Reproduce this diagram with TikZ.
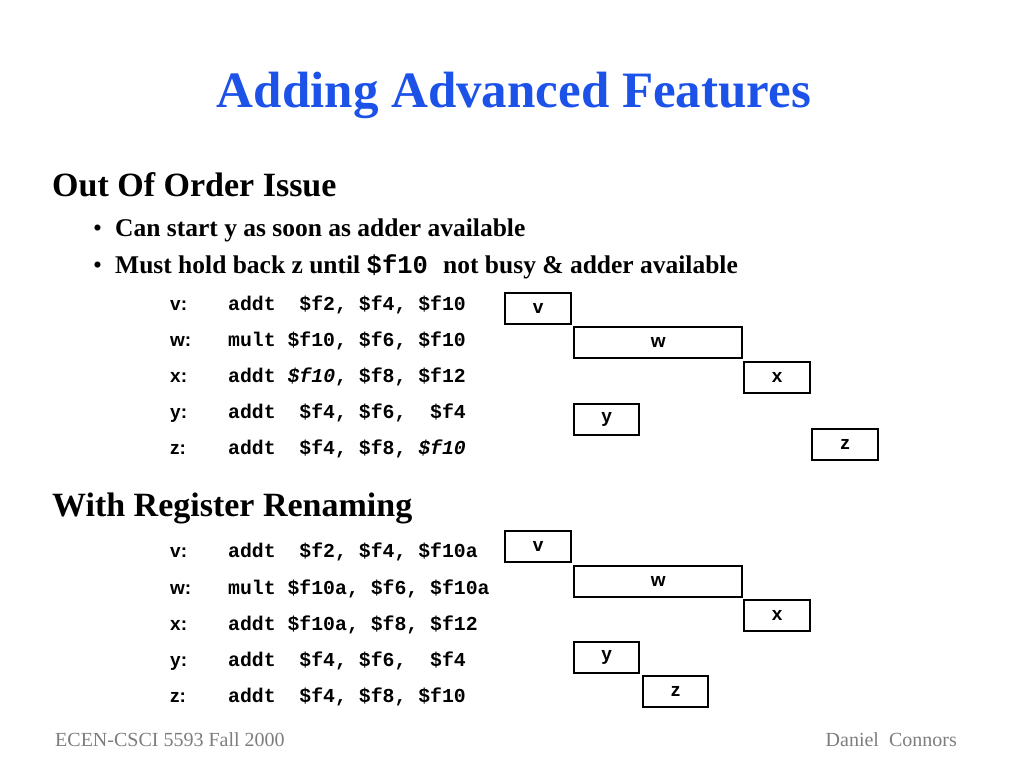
\documentclass[tikz,border=0pt]{standalone}
\usepackage{fontspec}
\setmainfont{Liberation Serif}
\newfontfamily\codefont{Liberation Mono}
\newfontfamily\boxfont{Liberation Sans}
\usepackage{tikz}
\usetikzlibrary{positioning}
\definecolor{titleblue}{RGB}{28,82,232}
\definecolor{footgray}{RGB}{125,125,125}
\newcommand{\cd}[1]{{\codefont\bfseries #1}}
\newcommand{\ci}[1]{{\codefont\bfseries\itshape #1}}
\tikzset{
  txt/.style={inner sep=0pt, anchor=base west},
  head/.style={txt, font=\fontsize{34}{40}\selectfont\bfseries},
  codeline/.style={txt, font=\fontsize{19.8}{24}\selectfont\codefont\bfseries},
  reglab/.style={txt, font=\fontsize{19}{24}\selectfont\boxfont\bfseries},
  slot/.style={draw, line width=2.4pt, anchor=north west, inner sep=0pt,
    minimum height=31pt, font=\fontsize{19}{20}\selectfont\boxfont\bfseries},
}
\begin{document}
\begin{tikzpicture}[x=1pt, y=-1pt]
  \useasboundingbox (0,0) rectangle (1024,768);
  % 标题
  \node[txt, anchor=base, text=titleblue, font=\fontsize{51}{56}\selectfont\bfseries] (title) at (514,107) {Adding Advanced Features};
  % 第一部分
  \node[head] (ooo) at (52,196) {Out Of Order Issue};
  \node[txt, font=\fontsize{25.5}{30}\selectfont] (b1) at (93,236) {\textbullet};
  \node[txt, font=\fontsize{25.5}{30}\selectfont\bfseries] (t1) at (115,236) {Can start y as soon as adder available};
  \node[txt, font=\fontsize{25.5}{30}\selectfont] (b2) at (93,273) {\textbullet};
  \node[txt, font=\fontsize{25.5}{30}\selectfont\bfseries] (t2) at (115,273) {Must hold back z until \cd{\$f10~}not busy \& adder available};
  % 指令
  \node[reglab] (lv1) at (170,310) {v:};
  \node[reglab] (lw1) at (170,346) {w:};
  \node[reglab] (lx1) at (170,382) {x:};
  \node[reglab] (ly1) at (170,418) {y:};
  \node[reglab] (lz1) at (170,454) {z:};
  \node[codeline] (iv1) at (228,310) {addt~~\$f2,~\$f4,~\$f10};
  \node[codeline] (iw1) at (228,346) {mult~\$f10,~\$f6,~\$f10};
  \node[codeline] (ix1) at (228,382) {addt~\ci{\$f10},~\$f8,~\$f12};
  \node[codeline] (iy1) at (228,418) {addt~~\$f4,~\$f6,~~\$f4};
  \node[codeline] (iz1) at (228,454) {addt~~\$f4,~\$f8,~\ci{\$f10}};
  % 时序方框
  \node[slot, minimum width=66pt] (sv1) at (504,292) {v};
  \node[slot, minimum width=168pt] (sw1) at (573,326) {w};
  \node[slot, minimum width=66pt] (sx1) at (743,361) {x};
  \node[slot, minimum width=65pt] (sy1) at (573,403) {y};
  \node[slot, minimum width=66pt] (sz1) at (811,428) {z};
  % 第二部分
  \node[head] (ren) at (52,516) {With Register Renaming};
  \node[reglab] (lv2) at (170,557) {v:};
  \node[reglab] (lw2) at (170,594) {w:};
  \node[reglab] (lx2) at (170,630) {x:};
  \node[reglab] (ly2) at (170,666) {y:};
  \node[reglab] (lz2) at (170,702) {z:};
  \node[codeline] (iv2) at (228,557) {addt~~\$f2,~\$f4,~\$f10a};
  \node[codeline] (iw2) at (228,594) {mult~\$f10a,~\$f6,~\$f10a};
  \node[codeline] (ix2) at (228,630) {addt~\$f10a,~\$f8,~\$f12};
  \node[codeline] (iy2) at (228,666) {addt~~\$f4,~\$f6,~~\$f4};
  \node[codeline] (iz2) at (228,702) {addt~~\$f4,~\$f8,~\$f10};
  \node[slot, minimum width=66pt] (sv2) at (504,530) {v};
  \node[slot, minimum width=168pt] (sw2) at (573,565) {w};
  \node[slot, minimum width=66pt] (sx2) at (743,599) {x};
  \node[slot, minimum width=65pt] (sy2) at (573,641) {y};
  \node[slot, minimum width=65pt] (sz2) at (642,675) {z};
  % 页脚
  \node[txt, text=footgray, font=\fontsize{20}{24}\selectfont] (foot) at (55,746) {ECEN-CSCI 5593 Fall 2000};
  \node[txt, anchor=base east, text=footgray, font=\fontsize{20}{24}\selectfont] (auth) at (957,746) {Daniel~~Connors};
\end{tikzpicture}
\end{document}
